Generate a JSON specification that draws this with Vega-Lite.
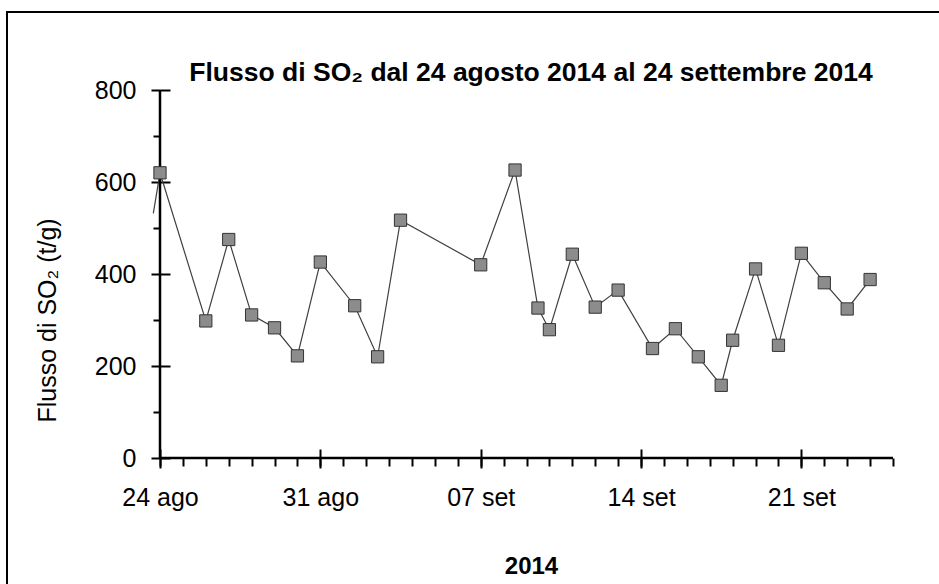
{
  "$schema": "https://vega.github.io/schema/vega-lite/v6.json",
  "width": 934,
  "height": 574,
  "autosize": {"type": "none"},
  "padding": {"left": 7, "top": 12, "right": 0, "bottom": 0},
  "background": "white",
  "config": {
    "view": {"stroke": "black", "strokeWidth": 2},
    "font": "Liberation Sans",
    "axis": {"grid": false, "domain": false, "tickColor": "black", "labelColor": "black", "titleColor": "black", "labelFont": "Liberation Sans", "titleFont": "Liberation Sans"}
  },
  "title": {
    "text": "Flusso di SO₂ dal 24 agosto 2014 al 24 settembre 2014",
    "font": "Liberation Sans",
    "fontSize": 26.5,
    "fontWeight": "bold",
    "color": "black",
    "anchor": "middle",
    "baseline": "middle",
    "offset": -87,
    "dx": 57
  },
  "datasets": {
    "obs": [
      {"t": "2014-08-24T00:00:00Z", "v": 620},
      {"t": "2014-08-26T00:00:00Z", "v": 298},
      {"t": "2014-08-27T00:00:00Z", "v": 475},
      {"t": "2014-08-28T00:00:00Z", "v": 311},
      {"t": "2014-08-29T00:00:00Z", "v": 283},
      {"t": "2014-08-30T00:00:00Z", "v": 222},
      {"t": "2014-08-31T00:00:00Z", "v": 426},
      {"t": "2014-09-01T12:00:00Z", "v": 331},
      {"t": "2014-09-02T12:00:00Z", "v": 220},
      {"t": "2014-09-03T12:00:00Z", "v": 517},
      {"t": "2014-09-07T00:00:00Z", "v": 420},
      {"t": "2014-09-08T12:00:00Z", "v": 626},
      {"t": "2014-09-09T12:00:00Z", "v": 326},
      {"t": "2014-09-10T00:00:00Z", "v": 279},
      {"t": "2014-09-11T00:00:00Z", "v": 443},
      {"t": "2014-09-12T00:00:00Z", "v": 328},
      {"t": "2014-09-13T00:00:00Z", "v": 365},
      {"t": "2014-09-14T12:00:00Z", "v": 238},
      {"t": "2014-09-15T12:00:00Z", "v": 281},
      {"t": "2014-09-16T12:00:00Z", "v": 220},
      {"t": "2014-09-17T12:00:00Z", "v": 158},
      {"t": "2014-09-18T00:00:00Z", "v": 256},
      {"t": "2014-09-19T00:00:00Z", "v": 411},
      {"t": "2014-09-20T00:00:00Z", "v": 245},
      {"t": "2014-09-21T00:00:00Z", "v": 445},
      {"t": "2014-09-22T00:00:00Z", "v": 381},
      {"t": "2014-09-23T00:00:00Z", "v": 324},
      {"t": "2014-09-24T00:00:00Z", "v": 388}
    ],
    "trace": [
      {"t": "2014-08-23T17:00:00Z", "v": 532},
      {"t": "2014-08-24T00:00:00Z", "v": 620},
      {"t": "2014-08-26T00:00:00Z", "v": 298},
      {"t": "2014-08-27T00:00:00Z", "v": 475},
      {"t": "2014-08-28T00:00:00Z", "v": 311},
      {"t": "2014-08-29T00:00:00Z", "v": 283},
      {"t": "2014-08-30T00:00:00Z", "v": 222},
      {"t": "2014-08-31T00:00:00Z", "v": 426},
      {"t": "2014-09-01T12:00:00Z", "v": 331},
      {"t": "2014-09-02T12:00:00Z", "v": 220},
      {"t": "2014-09-03T12:00:00Z", "v": 517},
      {"t": "2014-09-07T00:00:00Z", "v": 420},
      {"t": "2014-09-08T12:00:00Z", "v": 626},
      {"t": "2014-09-09T12:00:00Z", "v": 326},
      {"t": "2014-09-10T00:00:00Z", "v": 279},
      {"t": "2014-09-11T00:00:00Z", "v": 443},
      {"t": "2014-09-12T00:00:00Z", "v": 328},
      {"t": "2014-09-13T00:00:00Z", "v": 365},
      {"t": "2014-09-14T12:00:00Z", "v": 238},
      {"t": "2014-09-15T12:00:00Z", "v": 281},
      {"t": "2014-09-16T12:00:00Z", "v": 220},
      {"t": "2014-09-17T12:00:00Z", "v": 158},
      {"t": "2014-09-18T00:00:00Z", "v": 256},
      {"t": "2014-09-19T00:00:00Z", "v": 411},
      {"t": "2014-09-20T00:00:00Z", "v": 245},
      {"t": "2014-09-21T00:00:00Z", "v": 445},
      {"t": "2014-09-22T00:00:00Z", "v": 381},
      {"t": "2014-09-23T00:00:00Z", "v": 324},
      {"t": "2014-09-24T00:00:00Z", "v": 388}
    ],
    "one": [{"k": 1}]
  },
  "resolve": {"axis": {"x": "independent", "y": "independent"}},
  "layer": [
    {
      "data": {"name": "trace"},
      "mark": {"type": "line", "color": "#404040", "strokeWidth": 1.2},
      "encoding": {
        "x": {
          "field": "t", "type": "temporal",
          "scale": {"type": "utc", "domain": [{"year": 2014, "month": 8, "date": 17, "hours": 7, "minutes": 42, "utc": true}, {"year": 2014, "month": 9, "date": 27, "hours": 2, "minutes": 17, "utc": true}]},
          "axis": {
            "orient": "bottom", "offset": -128, "labels": false, "title": null, "tickSize": 8, "tickWidth": 2,
            "values": [
              {"year": 2014, "month": 8, "date": 24, "utc": true}, {"year": 2014, "month": 8, "date": 25, "utc": true},
              {"year": 2014, "month": 8, "date": 26, "utc": true}, {"year": 2014, "month": 8, "date": 27, "utc": true},
              {"year": 2014, "month": 8, "date": 28, "utc": true}, {"year": 2014, "month": 8, "date": 29, "utc": true},
              {"year": 2014, "month": 8, "date": 30, "utc": true}, {"year": 2014, "month": 8, "date": 31, "utc": true},
              {"year": 2014, "month": 9, "date": 1, "utc": true}, {"year": 2014, "month": 9, "date": 2, "utc": true},
              {"year": 2014, "month": 9, "date": 3, "utc": true}, {"year": 2014, "month": 9, "date": 4, "utc": true},
              {"year": 2014, "month": 9, "date": 5, "utc": true}, {"year": 2014, "month": 9, "date": 6, "utc": true},
              {"year": 2014, "month": 9, "date": 7, "utc": true}, {"year": 2014, "month": 9, "date": 8, "utc": true},
              {"year": 2014, "month": 9, "date": 9, "utc": true}, {"year": 2014, "month": 9, "date": 10, "utc": true},
              {"year": 2014, "month": 9, "date": 11, "utc": true}, {"year": 2014, "month": 9, "date": 12, "utc": true},
              {"year": 2014, "month": 9, "date": 13, "utc": true}, {"year": 2014, "month": 9, "date": 14, "utc": true},
              {"year": 2014, "month": 9, "date": 15, "utc": true}, {"year": 2014, "month": 9, "date": 16, "utc": true},
              {"year": 2014, "month": 9, "date": 17, "utc": true}, {"year": 2014, "month": 9, "date": 18, "utc": true},
              {"year": 2014, "month": 9, "date": 19, "utc": true}, {"year": 2014, "month": 9, "date": 20, "utc": true},
              {"year": 2014, "month": 9, "date": 21, "utc": true}, {"year": 2014, "month": 9, "date": 22, "utc": true},
              {"year": 2014, "month": 9, "date": 23, "utc": true}, {"year": 2014, "month": 9, "date": 24, "utc": true},
              {"year": 2014, "month": 9, "date": 25, "utc": true}
            ]
          }
        },
        "y": {
          "field": "v", "type": "quantitative",
          "scale": {"domain": [-278.26, 969.57], "nice": false, "zero": false},
          "axis": {"orient": "left", "offset": -153, "labels": false, "title": null, "tickSize": 7, "tickWidth": 2, "values": [100, 300, 500, 700]}
        }
      }
    },
    {
      "data": {"name": "one"},
      "mark": {"type": "rule", "color": "black", "strokeWidth": 2.5},
      "encoding": {
        "x": {"datum": {"year": 2014, "month": 8, "date": 24, "utc": true}, "type": "temporal", "axis": null},
        "y": {"datum": 0, "type": "quantitative", "axis": null},
        "y2": {"datum": 800}
      }
    },
    {
      "data": {"name": "one"},
      "mark": {"type": "rule", "color": "black", "strokeWidth": 2.5},
      "encoding": {
        "x": {
          "datum": {"year": 2014, "month": 8, "date": 24, "utc": true}, "type": "temporal",
          "axis": {
            "orient": "bottom", "offset": -128, "labels": false, "title": null, "tickSize": -9, "tickWidth": 2,
            "values": [
              {"year": 2014, "month": 8, "date": 24, "utc": true}, {"year": 2014, "month": 8, "date": 31, "utc": true},
              {"year": 2014, "month": 9, "date": 7, "utc": true}, {"year": 2014, "month": 9, "date": 14, "utc": true},
              {"year": 2014, "month": 9, "date": 21, "utc": true}
            ]
          }
        },
        "x2": {"datum": {"year": 2014, "month": 9, "date": 25, "utc": true}},
        "y": {
          "datum": 0, "type": "quantitative",
          "axis": {"orient": "left", "offset": -153, "labels": false, "title": null, "tickSize": -10, "tickWidth": 2, "values": [0, 200, 400, 600, 800]}
        }
      }
    },
    {
      "data": {"name": "obs"},
      "mark": {"type": "square", "size": 150, "color": "#8c8c8c", "opacity": 1, "stroke": "#333333", "strokeWidth": 1},
      "encoding": {
        "x": {
          "field": "t", "type": "temporal",
          "scale": {"type": "utc", "domain": [{"year": 2014, "month": 8, "date": 17, "hours": 7, "minutes": 42, "utc": true}, {"year": 2014, "month": 9, "date": 27, "hours": 2, "minutes": 17, "utc": true}]},
          "axis": {
            "orient": "bottom", "offset": -128, "tickSize": 10, "tickWidth": 2, "labelPadding": 17,
            "labelFontSize": 25, "labelAlign": "center",
            "labelExpr": "utcFormat(datum.value, '%d') + (utcmonth(datum.value) == 7 ? ' ago' : ' set')",
            "values": [
              {"year": 2014, "month": 8, "date": 24, "utc": true}, {"year": 2014, "month": 8, "date": 31, "utc": true},
              {"year": 2014, "month": 9, "date": 7, "utc": true}, {"year": 2014, "month": 9, "date": 14, "utc": true},
              {"year": 2014, "month": 9, "date": 21, "utc": true}
            ],
            "title": "2014", "titleFontSize": 24, "titleFontWeight": "bold",
            "titleX": 524, "titleY": 108, "titleAlign": "center", "titleBaseline": "middle", "titleAngle": 0
          }
        },
        "y": {
          "field": "v", "type": "quantitative",
          "scale": {"domain": [-278.26, 969.57], "nice": false, "zero": false},
          "axis": {
            "orient": "left", "offset": -153, "tickSize": 9, "tickWidth": 2, "labelPadding": 15,
            "labelFontSize": 25, "values": [0, 200, 400, 600, 800],
            "title": "Flusso di SO₂ (t/g)", "titleFontSize": 25, "titleFontWeight": "normal",
            "titleX": -113, "titleY": 308, "titleAlign": "center", "titleBaseline": "middle", "titleAngle": -90
          }
        }
      }
    }
  ]
}
